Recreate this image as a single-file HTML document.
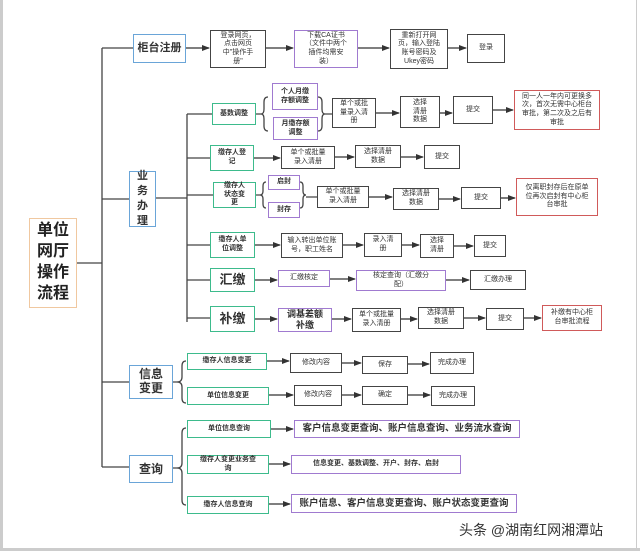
<!DOCTYPE html>
<html><head><meta charset="utf-8"><style>
body{margin:0;width:640px;height:551px;background:#fff;position:relative;overflow:hidden;font-family:"Liberation Sans","Noto Sans CJK SC",sans-serif;}
.b{position:absolute;box-sizing:border-box;border:1.5px solid #444;display:flex;align-items:center;justify-content:center;text-align:center;font-size:7px;line-height:1.25;color:#333;background:#fff;}
.bl{border-color:#6aa5d8;font-weight:bold;font-size:11px;}
.g{border-color:#3dbb8c;font-weight:bold;}
.p{border-color:#a07ad0;}
.r{border-color:#d05a5a;}
svg{position:absolute;left:0;top:0;}
</style></head><body>
<div style="position:absolute;left:0;top:0;width:3px;height:551px;background:#ccc"></div>
<div style="position:absolute;left:636px;top:0;width:1px;height:551px;background:#ccc"></div>
<div style="position:absolute;left:0;top:548px;width:640px;height:3px;background:#ccc"></div>
<svg width="640" height="551">
<defs><marker id="a" markerWidth="8" markerHeight="8" refX="7" refY="4" orient="auto" markerUnits="userSpaceOnUse"><path d="M0,1 L8,4 L0,7z" fill="#333"/></marker></defs>
<g stroke="#444" stroke-width="1.3" fill="none">
<path d="M77,263 H102 M102,48 V467 M102,48 H133 M102,199 H129 M102,382 H129 M102,467 H129"/>
<path d="M156,198 H187 M187,114 V322 M187,114 H212 M187,158 H210 M187,195 H213 M187,245 H210 M187,280 H210 M187,318 H210"/>
<path d="M256,114 h5 M268,97 q-4,0 -4,5 v7 q0,5 -3,5 q3,0 3,5 v7 q0,5 4,5"/>
<path d="M318,97 q4,0 4,5 v7 q0,5 3,5 q-3,0 -3,5 v7 q0,5 -4,5 M325,114 h7"/>
<path d="M256,195 h4 M266,182 q-3,0 -3,4 v5 q0,4 -3,4 q3,0 3,4 v5 q0,4 3,4"/>
<path d="M300,182 q3,0 3,4 v5 q0,4 3,4 q-3,0 -3,4 v5 q0,4 -3,4 M306,197 h11"/>
<path d="M173,382 h4 M186,361 q-4,0 -4,5 v11 q0,5 -5,5 q5,0 5,5 v11 q0,5 4,5"/>
<path d="M173,468 h4 M186,428 q-4,0 -4,5 v30 q0,5 -5,5 q5,0 5,5 v27 q0,5 4,5"/>
</g>
<g stroke="#333" stroke-width="1.3" marker-end="url(#a)">
<path d="M186,48 H209"/><path d="M266,48 H293"/><path d="M358,48 H389"/><path d="M448,48 H466"/>
<path d="M376,113 H399"/><path d="M440,113 H452"/><path d="M493,110 H513"/>
<path d="M254,158 H280"/><path d="M335,157 H354"/><path d="M401,157 H423"/>
<path d="M369,197 H392"/><path d="M439,199 H460"/><path d="M501,198 H515"/>
<path d="M255,245 H280"/><path d="M343,245 H363"/><path d="M402,245 H419"/><path d="M454,246 H473"/>
<path d="M255,280 H277"/><path d="M330,279 H355"/><path d="M446,280 H469"/>
<path d="M255,319 H277"/><path d="M332,319 H351"/><path d="M401,319 H417"/><path d="M464,318 H485"/><path d="M524,318 H541"/>
<path d="M267,361 H289"/><path d="M342,363 H361"/><path d="M408,364 H429"/>
<path d="M269,395 H293"/><path d="M342,395 H361"/><path d="M408,395 H430"/>
<path d="M271,429 H293"/><path d="M269,464 H290"/><path d="M269,504 H290"/>
</g>
</svg>
<div class="b" style="left:29px;top:218px;width:48px;height:90px;border-color:#f0c8a0;font-size:16px;font-weight:bold;line-height:1.3;color:#222">单位<br>网厅<br>操作<br>流程</div>
<div class="b bl" style="left:133px;top:34px;width:53px;height:29px">柜台注册</div>
<div class="b" style="left:210px;top:30px;width:56px;height:38px">登录网页，<br>点击网页<br>中"操作手<br>册"</div>
<div class="b p" style="left:294px;top:30px;width:64px;height:38px">下载CA证书<br>（文件中两个<br>插件均需安<br>装）</div>
<div class="b" style="left:390px;top:29px;width:58px;height:40px">重新打开网<br>页，输入登陆<br>账号密码及<br>Ukey密码</div>
<div class="b" style="left:467px;top:34px;width:38px;height:29px">登录</div>
<div class="b bl" style="left:129px;top:171px;width:27px;height:56px;line-height:1.35">业<br>务<br>办<br>理</div>
<div class="b g" style="left:212px;top:103px;width:44px;height:22px">基数调整</div>
<div class="b p" style="left:272px;top:83px;width:46px;height:27px;font-weight:bold">个人月缴<br>存额调整</div>
<div class="b p" style="left:273px;top:117px;width:45px;height:23px;font-weight:bold">月缴存额<br>调整</div>
<div class="b" style="left:332px;top:98px;width:44px;height:30px">单个或批<br>量录入清<br>册</div>
<div class="b" style="left:400px;top:96px;width:40px;height:32px">选择<br>清册<br>数据</div>
<div class="b" style="left:453px;top:96px;width:40px;height:28px">提交</div>
<div class="b r" style="left:514px;top:90px;width:86px;height:40px">同一人一年内可更换多<br>次，首次无需中心柜台<br>审批，第二次及之后有<br>审批</div>
<div class="b g" style="left:210px;top:145px;width:44px;height:26px">缴存人登<br>记</div>
<div class="b" style="left:281px;top:146px;width:54px;height:23px">单个或批量<br>录入清册</div>
<div class="b" style="left:355px;top:145px;width:46px;height:23px">选择清册<br>数据</div>
<div class="b" style="left:424px;top:145px;width:36px;height:24px">提交</div>
<div class="b g" style="left:213px;top:182px;width:43px;height:26px">缴存人<br>状态变<br>更</div>
<div class="b p" style="left:268px;top:175px;width:32px;height:15px;font-weight:bold">启封</div>
<div class="b p" style="left:268px;top:202px;width:32px;height:16px;font-weight:bold">封存</div>
<div class="b" style="left:317px;top:186px;width:52px;height:22px">单个或批量<br>录入清册</div>
<div class="b" style="left:393px;top:188px;width:46px;height:22px">选择清册<br>数据</div>
<div class="b" style="left:461px;top:187px;width:40px;height:22px">提交</div>
<div class="b r" style="left:516px;top:178px;width:82px;height:38px">仅离职封存后在原单<br>位再次启封有中心柜<br>台审批</div>
<div class="b g" style="left:210px;top:232px;width:45px;height:26px">缴存人单<br>位调整</div>
<div class="b" style="left:281px;top:233px;width:62px;height:25px">输入转出单位账<br>号，职工姓名</div>
<div class="b" style="left:364px;top:233px;width:38px;height:24px">录入清<br>册</div>
<div class="b" style="left:420px;top:234px;width:34px;height:24px">选择<br>清册</div>
<div class="b" style="left:474px;top:235px;width:32px;height:22px">提交</div>
<div class="b g" style="left:210px;top:268px;width:45px;height:24px;font-size:13px;font-weight:bold">汇缴</div>
<div class="b p" style="left:278px;top:270px;width:52px;height:17px">汇缴核定</div>
<div class="b p" style="left:356px;top:270px;width:90px;height:21px">核定查询（汇缴分<br>配）</div>
<div class="b" style="left:470px;top:270px;width:56px;height:20px">汇缴办理</div>
<div class="b g" style="left:210px;top:306px;width:45px;height:26px;font-size:13px;font-weight:bold">补缴</div>
<div class="b p" style="left:278px;top:308px;width:54px;height:24px;font-size:9px;font-weight:bold">调基差额<br>补缴</div>
<div class="b" style="left:352px;top:308px;width:49px;height:24px">单个或批量<br>录入清册</div>
<div class="b" style="left:418px;top:307px;width:46px;height:22px">选择清册<br>数据</div>
<div class="b" style="left:486px;top:308px;width:38px;height:22px">提交</div>
<div class="b r" style="left:542px;top:305px;width:60px;height:26px">补缴有中心柜<br>台审批流程</div>
<div class="b bl" style="left:129px;top:365px;width:44px;height:34px;font-size:12px;line-height:1.15">信息<br>变更</div>
<div class="b g" style="left:187px;top:353px;width:80px;height:17px">缴存人信息变更</div>
<div class="b" style="left:290px;top:353px;width:52px;height:20px">修改内容</div>
<div class="b" style="left:362px;top:356px;width:46px;height:18px">保存</div>
<div class="b" style="left:430px;top:352px;width:44px;height:22px">完成办理</div>
<div class="b g" style="left:187px;top:387px;width:82px;height:18px">单位信息变更</div>
<div class="b" style="left:294px;top:385px;width:48px;height:21px">修改内容</div>
<div class="b" style="left:362px;top:386px;width:46px;height:19px">确定</div>
<div class="b" style="left:431px;top:386px;width:44px;height:20px">完成办理</div>
<div class="b bl" style="left:129px;top:455px;width:44px;height:28px;font-size:12px">查询</div>
<div class="b g" style="left:187px;top:420px;width:84px;height:18px">单位信息查询</div>
<div class="b p" style="left:294px;top:420px;width:226px;height:18px;font-size:9.5px;font-weight:bold">客户信息变更查询、账户信息查询、业务流水查询</div>
<div class="b g" style="left:187px;top:455px;width:82px;height:19px">缴存人变更业务查<br>询</div>
<div class="b p" style="left:291px;top:455px;width:170px;height:19px;font-weight:bold">信息变更、基数调整、开户、封存、启封</div>
<div class="b g" style="left:187px;top:496px;width:82px;height:18px">缴存人信息查询</div>
<div class="b p" style="left:291px;top:494px;width:226px;height:19px;font-size:9.5px;font-weight:bold">账户信息、客户信息变更查询、账户状态变更查询</div>
<div style="position:absolute;left:459px;top:520px;font-size:14px;color:#333;white-space:nowrap">头条 @湖南红网湘潭站</div>
</body></html>
